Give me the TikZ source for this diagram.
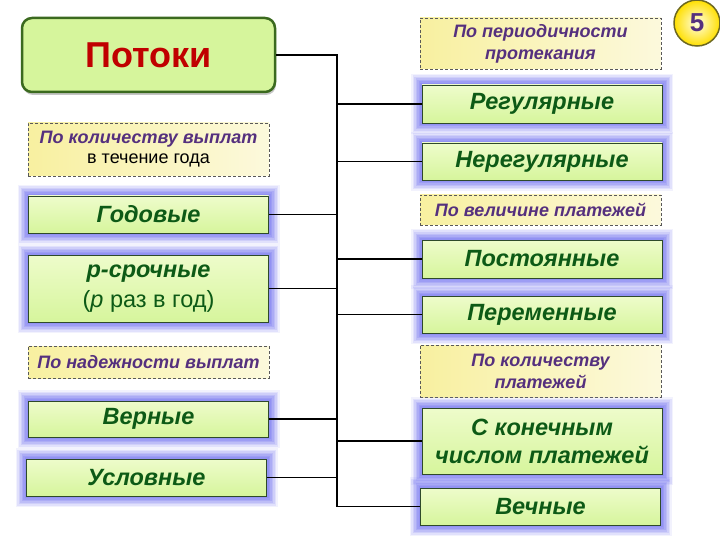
\documentclass[tikz,border=0pt]{standalone}
\usepackage{fontspec}
\setmainfont{Liberation Sans}
\usetikzlibrary{shadows}
\definecolor{boxfill}{HTML}{D6F59C}
\definecolor{boxtop}{HTML}{EEFCCB}
\definecolor{boxline}{HTML}{2E4A2A}
\definecolor{boxtext}{HTML}{0D5A16}
\definecolor{glowc}{HTML}{7C7CF0}
\definecolor{hdrl}{HTML}{F8F0A0}
\definecolor{hdrr}{HTML}{FCF9DC}
\definecolor{hdrtext}{HTML}{55307E}
\definecolor{titletext}{HTML}{C00000}
\definecolor{titleline}{HTML}{3B6A1F}
\begin{document}
\begin{tikzpicture}[
    x=1pt, y=-1pt,
    link/.style={line width=1.1pt},
    spine/.style={line width=1.8pt},
    glow/.style={
      preaction={draw=glowc, line width=22pt, opacity=0.1, rounded corners=9},
      preaction={draw=glowc, line width=19pt, opacity=0.14, rounded corners=8},
      preaction={draw=glowc, line width=16pt, opacity=0.18, rounded corners=7},
      preaction={draw=glowc, line width=13pt, opacity=0.22, rounded corners=6},
      preaction={draw=glowc, line width=10pt, opacity=0.26, rounded corners=5},
      preaction={draw=glowc, line width=7pt, opacity=0.3, rounded corners=4},
      preaction={draw=glowc, line width=4pt, opacity=0.35, rounded corners=2}},
    grbox/.style={glow, draw=boxline, line width=0.9pt, top color=boxtop, bottom color=boxfill,
      inner sep=0, minimum width=240, align=center, text=boxtext,
      font=\fontsize{23.5}{28}\selectfont\bfseries\itshape},
    hdr/.style={draw=gray!70!black, dash pattern=on 3pt off 2pt, left color=hdrl, right color=hdrr,
      inner sep=0, minimum width=241, align=center, text=hdrtext,
      font=\fontsize{18}{22}\selectfont\bfseries\itshape},
    title/.style={draw=titleline, line width=2.5pt, rounded corners=10, fill=boxfill,
      drop shadow={shadow xshift=1pt, shadow yshift=-3pt, opacity=0.45},
      inner sep=0, minimum width=253, minimum height=74, text=titletext,
      font=\fontsize{36}{40}\selectfont\bfseries},
    badge/.style={circle, draw=olive!70!black, line width=1.5pt, inner color=yellow!10,
      outer color=yellow!75!orange, minimum size=46, inner sep=0, text=hdrtext,
      font=\fontsize{26}{30}\selectfont\bfseries},
  ]
  \useasboundingbox (0,0) rectangle (720,540);

  \node[title] (potoki) at (148.5,55) {Потоки};
  \node[badge] (num) at (697,23) {5};

  \node[hdr, minimum height=53] (kolhdr) at (148.5,149.5) {По количеству выплат\\[-2pt]\textcolor{black}{\normalfont\fontsize{18}{20}\selectfont в течение года}};
  \node[grbox, minimum height=37] (god) at (148.5,214.5) {Годовые};
  \node[grbox, minimum height=67, font=\fontsize{23.5}{30}\selectfont] (psr) at (148.5,288.5) {\bfseries\itshape p-срочные\\(\textit{p} раз в год)};
  \node[hdr, minimum height=32] (nadhdr) at (148.5,362) {По надежности выплат};
  \node[grbox, minimum height=36] (vern) at (148.5,419) {Верные};
  \node[grbox, minimum height=37] (usl) at (146.5,477.5) {Условные};

  \node[hdr, minimum height=51] (perhdr) at (540.5,43.5) {По периодичности\\протекания};
  \node[grbox, minimum height=38] (reg) at (542,104) {Регулярные};
  \node[grbox, minimum height=37] (nereg) at (542,161.5) {Нерегулярные};
  \node[hdr, minimum height=30] (velhdr) at (540.5,210) {По величине платежей};
  \node[grbox, minimum height=38] (post) at (542,259) {Постоянные};
  \node[grbox, minimum height=37] (perem) at (542,314.5) {Переменные};
  \node[hdr, minimum height=52] (kolplhdr) at (540.5,371) {По количеству\\платежей};
  \node[grbox, minimum height=66] (kon) at (542,441) {С конечным\\числом платежей};
  \node[grbox, minimum height=37] (vech) at (540.5,506.5) {Вечные};

  \coordinate (sp) at (337,0);
  \draw[link] (potoki.east) -| (sp |- vech.west) -- (vech.west);
  \draw[spine] (sp |- potoki.east) -- (sp |- vech.west);
  \foreach \n in {god, psr, vern, usl}
    \draw[link] (\n.east) -- (sp |- \n.east);
  \foreach \n in {reg, nereg, post, perem, kon}
    \draw[link] (sp |- \n.west) -- (\n.west);

\end{tikzpicture}
\end{document}
